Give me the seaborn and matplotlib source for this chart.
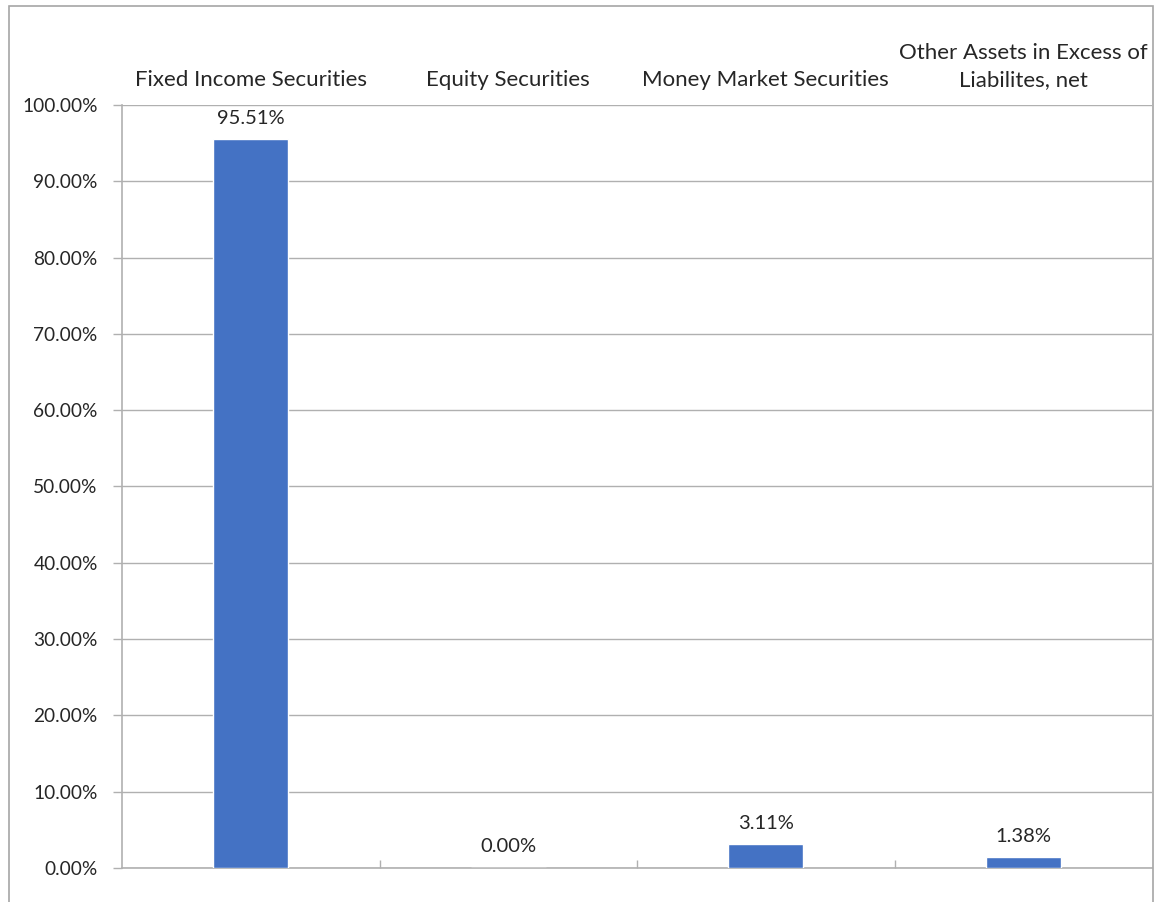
import matplotlib
matplotlib.use("Agg")
import matplotlib.pyplot as plt
import matplotlib.patches as mpatches
from matplotlib.ticker import FuncFormatter, FixedLocator
import seaborn as sns

# Portfolio composition by asset type (% of net assets)
categories = [
    "Fixed Income Securities",
    "Equity Securities",
    "Money Market Securities",
    "Other Assets in Excess of\nLiabilites, net",
]
values = [95.51, 0.00, 3.11, 1.38]
y_ticks = [0, 10, 20, 30, 40, 50, 60, 70, 80, 90, 100]

BAR_COLOR = "#4472C4"
TEXT_COLOR = "#262626"
GRID_COLOR = "#B0B0B0"

sns.set_theme(style="white")
plt.rcParams["font.family"] = ["Lato", "DejaVu Sans"]
plt.rcParams["font.size"] = 13.5

fig = plt.figure(figsize=(11.56, 9.02), dpi=100)
ax = fig.add_axes([122 / 1156, 34 / 902, (1152 - 122) / 1156, (868 - 105) / 902])

# chart border
fig.patches.append(mpatches.Rectangle(
    (9 / 1156, -0.05), (1153 - 9) / 1156, 1.05 - 6 / 902,
    transform=fig.transFigure, fill=False, edgecolor="#A6A6A6", linewidth=1.2))

sns.barplot(x=categories, y=values, color=BAR_COLOR, width=0.29,
            saturation=1, ax=ax, zorder=3)

ax.set_xlim(-0.5, len(categories) - 0.5)
ax.set_ylim(0, 100)
ax.yaxis.set_major_locator(FixedLocator(y_ticks))
ax.yaxis.set_major_formatter(FuncFormatter(lambda v, _: f"{v:.2f}%"))
ax.grid(axis="y", color=GRID_COLOR, linewidth=1, zorder=0)
ax.set_axisbelow(True)

for side in ("top", "right"):
    ax.spines[side].set_visible(False)
for side in ("left", "bottom"):
    ax.spines[side].set_color(GRID_COLOR)
    ax.spines[side].set_linewidth(1.2)

ax.tick_params(axis="y", which="major", left=True, length=6.5, width=1,
               color=GRID_COLOR, pad=11, labelcolor=TEXT_COLOR, labelsize=13.8)

# category labels across the top, boundary ticks on the baseline
ax.tick_params(axis="x", which="major", top=True, labeltop=True,
               bottom=False, labelbottom=False, length=0, pad=11,
               labelcolor=TEXT_COLOR, labelsize=16)
ax.xaxis.set_minor_locator(FixedLocator([i + 0.5 for i in range(len(categories) - 1)]))
ax.tick_params(axis="x", which="minor", bottom=True, top=False, direction="in",
               length=6, width=1, color=GRID_COLOR)
for lbl in ax.get_xticklabels():
    lbl.set_multialignment("center")
    lbl.set_linespacing(1.45)
ax.set_xlabel("")
ax.set_ylabel("")

for container in ax.containers:
    ax.bar_label(container, labels=[f"{v:.2f}%" for v in values],
                 padding=9, color=TEXT_COLOR, fontsize=14.5)

fig.savefig("out.png", dpi=100, facecolor="white")
